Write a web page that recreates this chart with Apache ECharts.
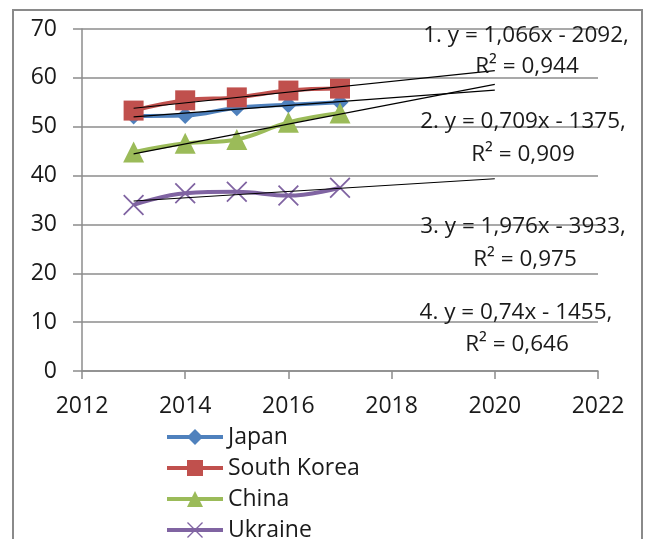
<!DOCTYPE html>
<html>
<head>
<meta charset="utf-8">
<script src="https://cdn.jsdelivr.net/npm/echarts@6/dist/echarts.min.js"></script>
<style>
html,body{margin:0;padding:0;background:#fff;}
#chart{width:647px;height:539px;}
</style>
</head>
<body>
<div id="chart"></div>
<script>
// ---- data ----
var years = [2013, 2014, 2015, 2016, 2017];
var seriesNames = ['Japan', 'South Korea', 'China', 'Ukraine'];
var japan = [52.2, 52.3, 53.9, 54.5, 55.0];
var southKorea = [53.3, 55.4, 56.0, 57.4, 57.8];
var china = [44.8, 46.6, 47.4, 50.9, 52.8];
var ukraine = [34.0, 36.4, 36.7, 35.9, 37.5];
var trendEndYear = 2020;
var xTicks = [2012, 2014, 2016, 2018, 2020, 2022];
var yTicks = [0, 10, 20, 30, 40, 50, 60, 70];
var equationLabels = ['1. y = 1,066x - 2092,', '2. y = 0,709x - 1375,', '3. y = 1,976x - 3933,', '4. y = 0,74x - 1455,'];
var r2Labels = ['R² = 0,944', 'R² = 0,909', 'R² = 0,975', 'R² = 0,646'];

// ---- styles ----
var colors = ['#4F81BD', '#C0504D', '#9BBB59', '#8064A2'];
var FONT = '"Open Sans", "Liberation Sans", sans-serif';
var xSymbol = 'path://M0,6 L6,0 L50,44 L94,0 L100,6 L56,50 L100,94 L94,100 L50,56 L6,100 L0,94 L44,50 Z';
var symbols = ['diamond', 'rect', 'triangle', xSymbol];
var symbolSizes = [[17, 17], 20, 21, 21];

var valuesList = [japan, southKorea, china, ukraine];

function fit(xs, ys) {
  var n = xs.length, mx = 0, my = 0;
  for (var i = 0; i < n; i++) { mx += xs[i]; my += ys[i]; }
  mx /= n; my /= n;
  var sxy = 0, sxx = 0;
  for (var j = 0; j < n; j++) { sxy += (xs[j] - mx) * (ys[j] - my); sxx += (xs[j] - mx) * (xs[j] - mx); }
  var b = sxy / sxx;
  return { a: my - b * mx, b: b };
}

var series = [];
valuesList.forEach(function (vals, k) {
  series.push({
    name: seriesNames[k],
    type: 'line',
    smooth: 0.4,
    data: years.map(function (y, i) { return [y, vals[i]]; }),
    symbol: symbols[k],
    symbolSize: symbolSizes[k],
    showAllSymbol: true,
    lineStyle: { color: colors[k], width: 4 },
    itemStyle: { color: colors[k], borderWidth: 0 },
    emphasis: { disabled: true },
    z: 2
  });
});
valuesList.forEach(function (vals, k) {
  var f = fit(years, vals);
  var x0 = years[0];
  series.push({
    name: 'trend' + (k + 1),
    type: 'line',
    data: [[x0, f.a + f.b * x0], [trendEndYear, f.a + f.b * trendEndYear]],
    symbol: 'none',
    lineStyle: { color: '#000', width: 1.2 },
    silent: true,
    z: 3
  });
});

// ---- label positions (pixel layout) ----
var eqPos = [[526, 36, 527, 67], [523, 122, 523, 155], [523, 227, 525, 260], [516, 313, 517, 345]];
var graphics = [{
  type: 'rect',
  shape: { x: 13, y: 10, width: 629, height: 545 },
  style: { fill: 'none', stroke: '#8a8a8a', lineWidth: 2 },
  silent: true, z: 0
}];
equationLabels.forEach(function (t, i) {
  graphics.push({ type: 'text', x: eqPos[i][0], y: eqPos[i][1], z: 10,
    style: { text: t, font: '22.5px ' + FONT, fill: '#1a1a1a', textAlign: 'center', textVerticalAlign: 'middle' } });
  graphics.push({ type: 'text', x: eqPos[i][2], y: eqPos[i][3], z: 10,
    style: { text: r2Labels[i], font: '22.5px ' + FONT, fill: '#1a1a1a', textAlign: 'center', textVerticalAlign: 'middle' } });
});

var chart = echarts.init(document.getElementById('chart'), null, { renderer: 'canvas' });
chart.setOption({
  animation: false,
  backgroundColor: '#fff',
  grid: { left: 82, right: 49, top: 29, bottom: 168, containLabel: false },
  xAxis: {
    type: 'value', min: xTicks[0], max: xTicks[xTicks.length - 1], interval: 2,
    axisLine: { show: true, lineStyle: { color: '#8c8c8c', width: 1.5 } },
    axisTick: { show: true, length: 8, lineStyle: { color: '#8c8c8c', width: 1.5 } },
    axisLabel: { margin: 24, fontSize: 23, fontFamily: FONT, color: '#1a1a1a',
      formatter: function (v) { return String(v); } },
    splitLine: { show: false }
  },
  yAxis: {
    type: 'value', min: yTicks[0], max: yTicks[yTicks.length - 1], interval: 10,
    axisLine: { show: true, lineStyle: { color: '#8c8c8c', width: 1.5 } },
    axisTick: { show: true, length: 9, lineStyle: { color: '#8c8c8c', width: 1.5 } },
    axisLabel: { margin: 25, fontSize: 23, fontFamily: FONT, color: '#1a1a1a' },
    splitLine: { show: true, lineStyle: { color: '#8c8c8c', width: 1.5 } }
  },
  legend: {
    data: seriesNames,
    orient: 'vertical',
    left: 160, top: 420, height: 160,
    itemWidth: 56, itemHeight: 20, itemGap: 7,
    lineStyle: { width: 4 },
    textStyle: { fontSize: 23, fontFamily: FONT, color: '#1a1a1a', lineHeight: 24 },
    selectedMode: false
  },
  graphic: graphics,
  series: series
});
</script>
</body>
</html>
